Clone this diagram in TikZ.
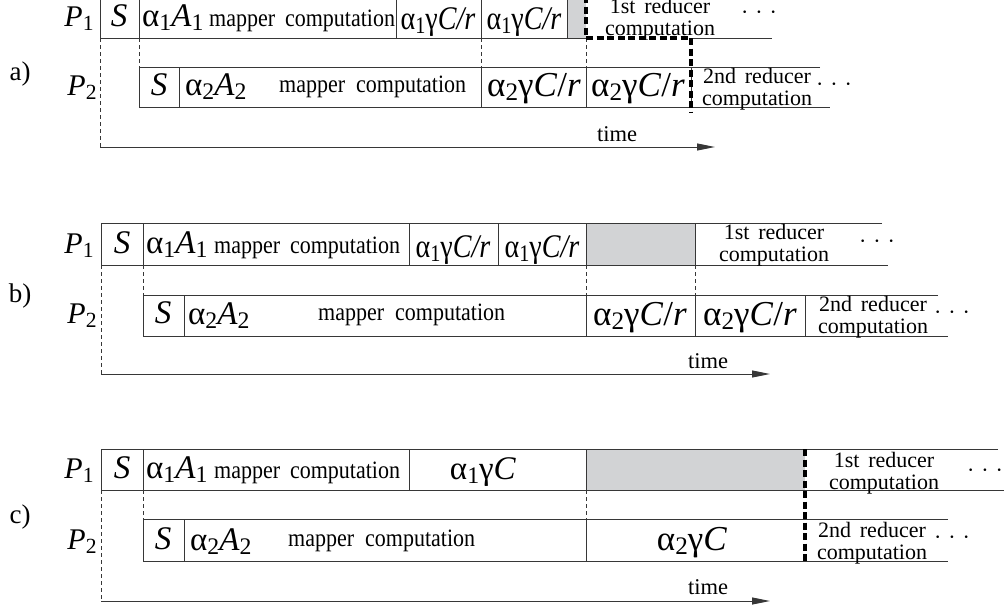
\documentclass[tikz,border=0pt]{standalone}
\usepackage{fontspec}
\setmainfont{Liberation Serif}
\usetikzlibrary{arrows.meta}
\definecolor{idle}{RGB}{210,211,213}
\definecolor{lncol}{RGB}{55,55,55}
\newcommand\lo[1]{\raisebox{-0.3ex}{\scalebox{0.72}{#1}}}
\newcommand\cond[1]{\scalebox{0.85}[1]{#1}}
\newcommand\mcomp[1]{\scalebox{0.88}[1]{mapper\hspace{#1}computation}}
\tikzset{
  ln/.style={draw=lncol, line width=1pt},
  dsh/.style={draw=lncol, line width=0.8pt, dash pattern=on 4pt off 3pt},
  thickdsh/.style={draw=black, line width=3.2pt, dash pattern=on 7pt off 3.5pt},
  stxt/.style={font=\fontsize{33}{34}\selectfont, inner sep=0pt, anchor=base},
  ptxt/.style={font=\fontsize{30}{31}\selectfont, inner sep=0pt, anchor=base},
  crtxt/.style={font=\fontsize{35}{36}\selectfont, inner sep=0pt, anchor=base},
  smtxt/.style={font=\fontsize{25}{26}\selectfont, inner sep=0pt, anchor=base west},
  redtxt/.style={font=\fontsize{22}{22.5}\selectfont, inner sep=0pt, align=center},
  lbltxt/.style={font=\fontsize{27}{27}\selectfont, inner sep=0pt},
  dotstxt/.style={font=\fontsize{22}{22}\selectfont, inner sep=0pt},
  timetxt/.style={font=\fontsize{22.5}{23}\selectfont, inner sep=0pt},
  axis/.style={draw=lncol, line width=1pt, -{Triangle[length=18pt,width=7pt]}},
}
\newcommand\dts{·\hspace{7pt}·\hspace{7pt}·}
\begin{document}
\begin{tikzpicture}[x=1pt,y=-1pt]
\useasboundingbox (0,0) rectangle (1004,613);
% ================= a) =================
\fill[idle] (567,-4) rectangle (586,38);
\draw[ln] (772,-4) -- (100,-4) -- (100,38) -- (586,38);
\draw[ln] (691,38) -- (772,38);
\foreach \x in {139,396,481,567} \draw[ln] (\x,-4) -- (\x,38);
\draw[ln] (820,67) -- (139,67) -- (139,107) -- (830,107);
\foreach \x in {179,481,586,691} \draw[ln] (\x,67) -- (\x,107);
\draw[dsh] (100,38) -- (100,147);
\foreach \x in {139,481,586} \draw[dsh] (\x,38) -- (\x,67);
\coordinate (a0) at (100,147);
\coordinate (a1) at (715,147);
\draw[axis] (a0) -- (a1);
\node[lbltxt] (alab) at (20,74) {a)};
\node[ptxt] (aP1) at (79,26) {\textit{P}\lo1};
\node[ptxt] (aP2) at (82,95) {\textit{P}\lo2};
\node[stxt] (aS1) at (119,26) {\textit{S}};
\node[stxt,anchor=base west] (aA1) at (142,26) {α\lo1\textit{A}\lo1};
\node[smtxt] (aM1) at (209,26) {\mcomp{0.45em}};
\node[stxt] (aC11) at (438,29) {\cond{α\lo1γ\textit{C/r}}};
\node[stxt] (aC12) at (524,29) {\cond{α\lo1γ\textit{C/r}}};
\node[redtxt] (aR1) at (660,19) {1st\hspace{0.4em}reducer\\computation};
\node[dotstxt] (aD1) at (759,15) {\dts};
\node[stxt] (aS2) at (159,95) {\textit{S}};
\node[stxt,anchor=base west] (aA2) at (185,95) {α\lo2\textit{A}\lo2};
\node[smtxt] (aM2) at (279,92) {\mcomp{0.5em}};
\node[crtxt] (aC21) at (534,96) {α\lo2γ\textit{C}/\textit{r}};
\node[crtxt] (aC22) at (638,96) {α\lo2γ\textit{C}/\textit{r}};
\node[redtxt] (aR2) at (757,89) {2nd\hspace{0.4em}reducer\\computation};
\node[dotstxt] (aD2) at (834,87) {\dts};
\node[timetxt] (aT) at (617,134) {time};
\draw[thickdsh] (586,-4) -- (586,38) -- (691,38) -- (691,113);
% ================= b) =================
\fill[idle] (586,223) rectangle (695,265);
\draw[ln] (882,223) -- (101,223) -- (101,265) -- (888,265);
\foreach \x in {143,409,498,586,695} \draw[ln] (\x,223) -- (\x,265);
\draw[ln] (938,295) -- (143,295) -- (143,336) -- (948,336);
\foreach \x in {184,586,695,805} \draw[ln] (\x,295) -- (\x,336);
\draw[dsh] (101,265) -- (101,374);
\foreach \x in {143,586,695} \draw[dsh] (\x,265) -- (\x,295);
\coordinate (b0) at (101,374);
\coordinate (b1) at (770,374);
\draw[axis] (b0) -- (b1);
\node[lbltxt] (blab) at (20,296) {b)};
\node[ptxt] (bP1) at (79,253) {\textit{P}\lo1};
\node[ptxt] (bP2) at (82,323) {\textit{P}\lo2};
\node[stxt] (bS1) at (122,253) {\textit{S}};
\node[stxt,anchor=base west] (bA1) at (146,253) {α\lo1\textit{A}\lo1};
\node[smtxt] (bM1) at (214,253) {\mcomp{0.45em}};
\node[stxt] (bC11) at (453,257) {\cond{α\lo1γ\textit{C/r}}};
\node[stxt] (bC12) at (542,257) {\cond{α\lo1γ\textit{C/r}}};
\node[redtxt] (bR1) at (774,245) {1st\hspace{0.4em}reducer\\computation};
\node[dotstxt] (bD1) at (877,244) {\dts};
\node[stxt] (bS2) at (163,323) {\textit{S}};
\node[stxt,anchor=base west] (bA2) at (188,324) {α\lo2\textit{A}\lo2};
\node[smtxt] (bM2) at (318,320) {\mcomp{0.5em}};
\node[crtxt] (bC21) at (640,325) {α\lo2γ\textit{C}/\textit{r}};
\node[crtxt] (bC22) at (750,325) {α\lo2γ\textit{C}/\textit{r}};
\node[redtxt] (bR2) at (873,317) {2nd\hspace{0.4em}reducer\\computation};
\node[dotstxt] (bD2) at (952,315) {\dts};
\node[timetxt] (bT) at (708,361) {time};
% ================= c) =================
\fill[idle] (586,449) rectangle (805,490);
\draw[ln] (998,449) -- (101,449) -- (101,490) -- (1004,490);
\foreach \x in {143,409,586} \draw[ln] (\x,449) -- (\x,490);
\draw[ln] (948,519) -- (143,519) -- (143,561) -- (948,561);
\foreach \x in {184,586} \draw[ln] (\x,519) -- (\x,561);
\draw[dsh] (101,490) -- (101,601);
\foreach \x in {143,586} \draw[dsh] (\x,490) -- (\x,519);
\coordinate (c0) at (101,601);
\coordinate (c1) at (770,601);
\draw[axis] (c0) -- (c1);
\node[lbltxt] (clab) at (20,517) {c)};
\node[ptxt] (cP1) at (79,478) {\textit{P}\lo1};
\node[ptxt] (cP2) at (82,549) {\textit{P}\lo2};
\node[stxt] (cS1) at (122,478) {\textit{S}};
\node[stxt,anchor=base west] (cA1) at (146,478) {α\lo1\textit{A}\lo1};
\node[smtxt] (cM1) at (214,478) {\mcomp{0.45em}};
\node[stxt] (cC1) at (483,479) {α\lo1γ\textit{C}};
\node[redtxt] (cR1) at (884,473) {1st\hspace{0.4em}reducer\\computation};
\node[dotstxt] (cD1) at (985,473) {\dts};
\node[stxt] (cS2) at (163,549) {\textit{S}};
\node[stxt,anchor=base west] (cA2) at (190,550) {α\lo2\textit{A}\lo2};
\node[smtxt] (cM2) at (288,546) {\mcomp{0.5em}};
\node[crtxt] (cC2) at (692,550) {α\lo2γ\textit{C}};
\node[redtxt] (cR2) at (872,543) {2nd\hspace{0.4em}reducer\\computation};
\node[dotstxt] (cD2) at (952,540) {\dts};
\node[timetxt] (cT) at (708,587) {time};
\draw[thickdsh] (805,449) -- (805,561);
\end{tikzpicture}
\end{document}
